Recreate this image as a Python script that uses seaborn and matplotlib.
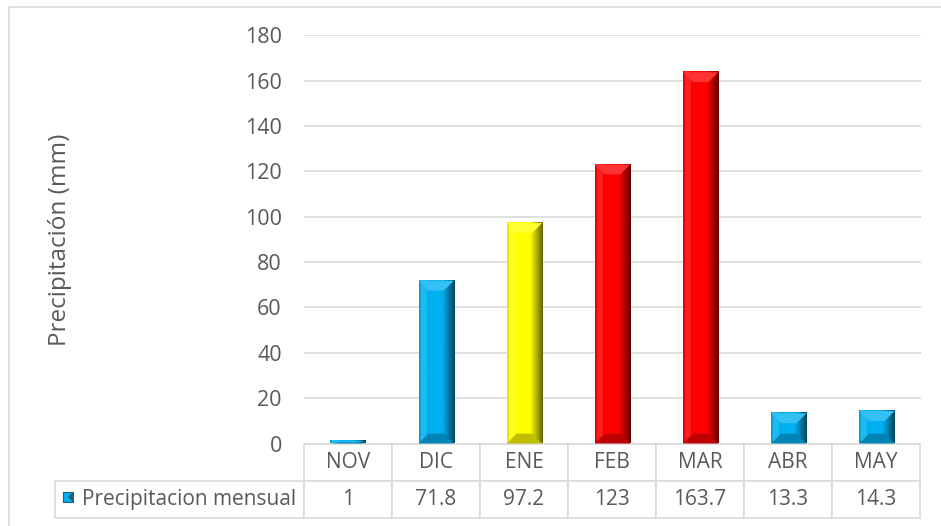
import numpy as np
import pandas as pd
import matplotlib
matplotlib.use("Agg")
import matplotlib.pyplot as plt
import matplotlib.colors as mcolors
from matplotlib.patches import Polygon, Rectangle
import seaborn as sns

months = ["NOV", "DIC", "ENE", "FEB", "MAR", "ABR", "MAY"]
precip = [1, 71.8, 97.2, 123, 163.7, 13.3, 14.3]
value_labels = ["1", "71.8", "97.2", "123", "163.7", "13.3", "14.3"]
bar_colors = ["#00B0F0", "#00B0F0", "#FFFF00", "#FF0000", "#FF0000", "#00B0F0", "#00B0F0"]
series_name = "Precipitacion mensual"
ylabel = "Precipitación (mm)"
yticks = [0, 20, 40, 60, 80, 100, 120, 140, 160, 180]

sns.set_style("white")
plt.rcParams["font.family"] = ["Open Sans", "DejaVu Sans"]
txt_col = "#595959"
grid_col = "#D9D9D9"

df = pd.DataFrame({"mes": months, "pp": precip})

fig = plt.figure(figsize=(9.41, 5.26), dpi=100)
ax = fig.add_axes([304 / 941, (526 - 443.5) / 526, 617 / 941, 408.2 / 526])

sns.barplot(data=df, x="mes", y="pp", hue="mes", palette=bar_colors,
            width=0.4, legend=False, ax=ax, saturation=1)

ax.set_ylim(0, 180)
ax.set_xlim(-0.5, len(months) - 0.5)
ax.set_yticks(yticks)
ax.yaxis.grid(True, color=grid_col, lw=1.2)
ax.set_axisbelow(True)
for s in ax.spines.values():
    s.set_visible(False)
ax.tick_params(axis="y", length=0, pad=16, labelsize=15.5, labelcolor=txt_col)
ax.set_xticks([])
ax.set_xlabel("")
ax.set_ylabel(ylabel, fontsize=17.5, color=txt_col)
ax.yaxis.set_label_coords(-0.376, 0.5)


def shade(c, f):
    c = np.array(mcolors.to_rgb(c))
    if f >= 1:
        return c + (1 - c) * (f - 1)
    return c * f


# bevel look for the bars, built from the seaborn patches
x_px = 617 / 7
y_px = 408.2 / 180
for patch, col in zip(ax.patches, bar_colors):
    x0 = patch.get_x()
    w = patch.get_width()
    h = patch.get_height()
    patch.set_visible(False)
    t = np.linspace(0, 1, 60)
    row = []
    for ti in t:
        if ti < 0.05:
            f = 0.9
        elif ti < 0.22:
            f = 1.12
        elif ti < 0.65:
            f = 1.0
        else:
            f = 1.0 - (ti - 0.65) / 0.35 * 0.6
        row.append(np.clip(shade(col, f), 0, 1))
    img = np.array([row])
    ax.imshow(img, extent=(x0, x0 + w, 0, h), aspect="auto", zorder=3,
              interpolation="bilinear")
    b = 0.28 * w
    by = min(b * x_px / y_px, h / 2)
    ax.add_patch(Polygon([(x0, h), (x0 + w, h), (x0 + w - b, h - by), (x0 + b, h - by)],
                         closed=True, facecolor=np.clip(shade(col, 1.2), 0, 1),
                         edgecolor="none", zorder=4))
    ax.add_patch(Polygon([(x0, 0), (x0 + w, 0), (x0 + w - b, by), (x0 + b, by)],
                         closed=True, facecolor=shade(col, 0.75),
                         edgecolor="none", zorder=4))

ax.set_ylim(0, 180)
ax.set_xlim(-0.5, len(months) - 0.5)

# data table under the chart
cell_text = [[""] + months, [series_name] + value_labels]
first_w = 249 / 617
col_w = [first_w] + [88 / 617] * len(months)
tab = ax.table(cellText=cell_text, colWidths=col_w, cellLoc="center",
               bbox=[-first_w, -74.5 / 408.2, first_w + 616 / 617, 74.5 / 408.2])
tab.auto_set_font_size(False)
tab.set_fontsize(15)
for (r, c), cell in tab.get_celld().items():
    cell.set_edgecolor(grid_col)
    cell.set_linewidth(1.2)
    cell.get_text().set_color(txt_col)
    if r == 0 and c == 0:
        cell.visible_edges = ""
    if r == 1 and c == 0:
        cell.get_text().set_ha("left")
        cell._loc = "left"
        cell.PAD = 0.11

# legend key in the table
kx, ky, ks = 63 / 941, (526 - 502) / 526, 10
key_w, key_h = ks / 941, ks / 526
fig.patches.append(Rectangle((kx, ky), key_w, key_h, transform=fig.transFigure,
                             facecolor="#00B0F0", edgecolor="#1F5F7F", lw=0.8))
fig.patches.append(Polygon([(kx + key_w, ky), (kx + key_w, ky + key_h), (kx + key_w / 2, ky + key_h / 2)],
                           closed=True, transform=fig.transFigure, facecolor="#1F5F7F", edgecolor="none"))

# chart border
fig.patches.append(Rectangle((9 / 941, -0.2), 1.2, (526 - 6.5) / 526 + 0.2,
                             transform=fig.transFigure, fill=False,
                             edgecolor=grid_col, lw=1.2))

fig.savefig("out.png", dpi=100)
